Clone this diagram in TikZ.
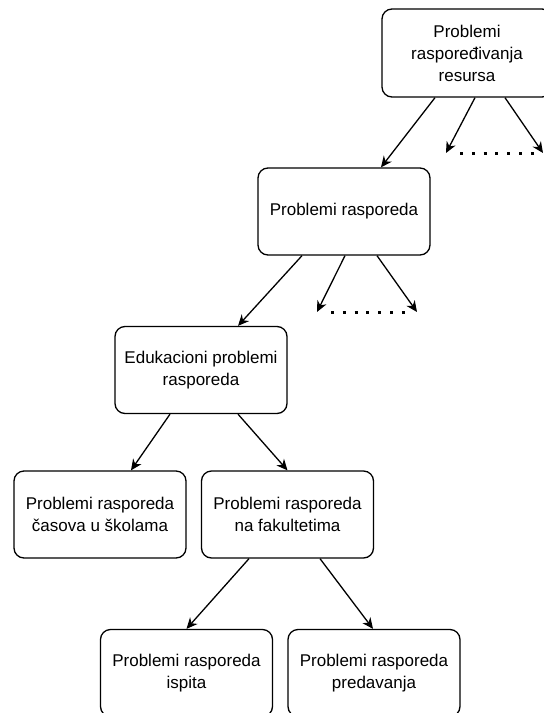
\documentclass[tikz,border=0pt]{standalone}
\usepackage{fontspec}
\setmainfont{Liberation Sans}
\usetikzlibrary{arrows.meta}
\begin{document}
\begin{tikzpicture}[x=1pt,y=-1pt,
  box/.style={draw,line width=1.3pt,rounded corners=10pt,minimum width=172pt,minimum height=87pt,align=center,inner sep=2pt,font=\fontsize{17}{22}\selectfont},
  arr/.style={line width=1.3pt,-{Stealth[length=11pt,width=10pt,inset=3.5pt]}},
  dotline/.style={line width=3pt,dash pattern=on 3pt off 8.8pt}]
\useasboundingbox (0,0) rectangle (544,713);
\node[box,minimum width=170pt,minimum height=88pt] (top) at (467,53) {Problemi\\raspoređivanja\\resursa};
\node[box] (r2) at (344,211.5) {Problemi rasporeda};
\node[box] (ed) at (201,370) {Edukacioni problemi\\rasporeda};
\node[box] (sk) at (100,514.5) {Problemi rasporeda\\časova u školama};
\node[box] (fk) at (287.5,514.5) {Problemi rasporeda\\na fakultetima};
\node[box] (isp) at (186.5,673) {Problemi rasporeda\\ispita};
\node[box] (pred) at (374,673) {Problemi rasporeda\\predavanja};
\coordinate (d1) at (446,153);
\coordinate (d2) at (543,153);
\coordinate (dl1) at (460,153);
\coordinate (dl2) at (535,153);
\coordinate (e1) at (317,312);
\coordinate (e2) at (417,312);
\coordinate (el1) at (331,312);
\coordinate (el2) at (406,312);
\draw[arr] ([xshift=-32pt]top.south) -- ([xshift=37pt]r2.north);
\draw[arr] ([xshift=8pt]top.south) -- (d1);
\draw[arr] ([xshift=38pt]top.south) -- (d2);
\draw[dotline] (dl1) -- (dl2);
\draw[arr] ([xshift=-42pt]r2.south) -- ([xshift=37pt]ed.north);
\draw[arr] ([xshift=1pt]r2.south) -- (e1);
\draw[arr] ([xshift=33pt]r2.south) -- (e2);
\draw[dotline] (el1) -- (el2);
\draw[arr] ([xshift=-31pt]ed.south) -- ([xshift=31pt]sk.north);
\draw[arr] ([xshift=37pt]ed.south) -- ([xshift=0pt]fk.north);
\draw[arr] ([xshift=-38.5pt]fk.south) -- ([xshift=0pt]isp.north);
\draw[arr] ([xshift=32.5pt]fk.south) -- ([xshift=-1pt]pred.north);
\end{tikzpicture}
\end{document}
